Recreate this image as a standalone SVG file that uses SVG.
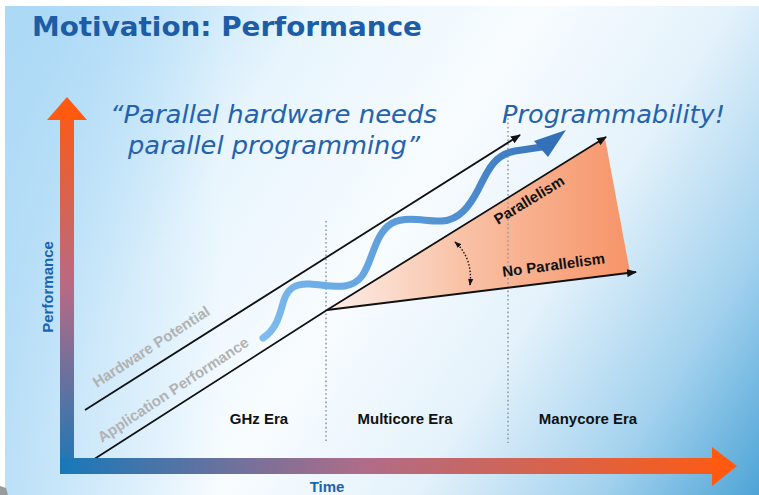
<svg xmlns="http://www.w3.org/2000/svg" width="759" height="495" viewBox="0 0 759 495">
<defs>
<linearGradient id="bg" gradientUnits="userSpaceOnUse" x1="0" y1="0" x2="759" y2="495">
<stop offset="0" stop-color="#9fd4f6"/>
<stop offset="0.3" stop-color="#e8f5fd"/>
<stop offset="0.5" stop-color="#f8fcff"/>
<stop offset="0.68" stop-color="#e4f2fb"/>
<stop offset="0.85" stop-color="#a3d2ee"/>
<stop offset="1" stop-color="#4ea4d6"/>
</linearGradient>
<linearGradient id="bgLeft" gradientUnits="userSpaceOnUse" x1="0" y1="0" x2="220" y2="0">
<stop offset="0" stop-color="#aedaf6" stop-opacity="0.8"/>
<stop offset="1" stop-color="#aedaf6" stop-opacity="0"/>
</linearGradient>
<linearGradient id="yAxis" gradientUnits="userSpaceOnUse" x1="0" y1="474" x2="0" y2="97">
<stop offset="0" stop-color="#1878b8"/>
<stop offset="0.5" stop-color="#b86a84"/>
<stop offset="1" stop-color="#ff5a10"/>
</linearGradient>
<linearGradient id="xAxis" gradientUnits="userSpaceOnUse" x1="60" y1="0" x2="737" y2="0">
<stop offset="0" stop-color="#1878b8"/>
<stop offset="0.45" stop-color="#b06c88"/>
<stop offset="1" stop-color="#ff5a10"/>
</linearGradient>
<linearGradient id="wedge" gradientUnits="userSpaceOnUse" x1="327" y1="0" x2="625" y2="0">
<stop offset="0" stop-color="#fcefea"/>
<stop offset="0.45" stop-color="#f9c2a6"/>
<stop offset="1" stop-color="#f7956a"/>
</linearGradient>
<linearGradient id="wave" gradientUnits="userSpaceOnUse" x1="263" y1="338" x2="566" y2="130">
<stop offset="0" stop-color="#7cbcf0"/>
<stop offset="0.5" stop-color="#5a9ad8"/>
<stop offset="1" stop-color="#3470b8"/>
</linearGradient>
<marker id="ah" viewBox="0 0 10 8" refX="9" refY="4" markerWidth="10" markerHeight="8" markerUnits="userSpaceOnUse" orient="auto">
<path d="M0,0 L10,4 L0,8 Z" fill="#111"/>
</marker>
<marker id="ahs" viewBox="0 0 8 6" refX="7" refY="3" markerWidth="7" markerHeight="6" markerUnits="userSpaceOnUse" orient="auto-start-reverse">
<path d="M0,0 L8,3 L0,6 Z" fill="#111"/>
</marker>
<style>
.line{stroke:#111;stroke-width:1.8;fill:none}
.dot{stroke:#999;stroke-width:1.6;stroke-dasharray:1.6 2.6;fill:none}
.lbl{font-family:"Liberation Sans",Arial,sans-serif;font-weight:bold;font-size:15px;fill:#111}
.gray{font-family:"Liberation Sans",Arial,sans-serif;font-weight:bold;font-size:15px;fill:#b2b2b2}
.ax{font-family:"Liberation Sans",Arial,sans-serif;font-weight:bold;font-size:15px;fill:#1a64ae}
.quote{font-family:"DejaVu Sans",Verdana,sans-serif;font-style:italic;font-size:25px;fill:#2462ad}
</style>
</defs>

<g id="background">
<rect x="0" y="0" width="759" height="495" fill="#ffffff"/>
<rect x="5" y="6" width="754" height="489" fill="url(#bg)"/>
<rect x="5" y="6" width="220" height="489" fill="url(#bgLeft)"/>
<path d="M0,486 L6,488 L8,495 L0,495 Z" fill="#9a9a9a"/>
</g>

<g id="title">
<text x="32" y="36" font-family="DejaVu Sans, Verdana, sans-serif" font-weight="bold" font-size="27" fill="#1d5ca6" textLength="390" lengthAdjust="spacingAndGlyphs">Motivation: Performance</text>
</g>

<g id="wedge-area">
<polygon points="327,310 605,138 630,272.5" fill="url(#wedge)"/>
</g>

<g id="era-dividers">
<line class="dot" x1="326" y1="221" x2="326" y2="443"/>
<line class="dot" x1="508" y1="110" x2="508" y2="443"/>
</g>

<g id="connectors">
<line id="hardware-line" class="line" x1="85" y1="410" x2="520" y2="135" marker-end="url(#ah)"/>
<polyline id="app-line" class="line" points="85,465 327,310 606,137" marker-end="url(#ah)"/>
<line id="no-par-line" class="line" x1="327" y1="310" x2="636" y2="272" marker-end="url(#ah)"/>
<path id="angle-arrow" d="M455,242 Q473,258 470,285" fill="none" stroke="#111" stroke-width="1.4" stroke-dasharray="1.5 1.8" marker-start="url(#ahs)" marker-end="url(#ahs)"/>
</g>

<g id="programmability-wave">
<path d="M263,338 C278,328 280,312 284,300 C288,288 296,283 310,284 C330,285 350,292 362,276 C372,262 374,238 388,226 C402,214 425,222 442,221 C460,220 470,205 478,190 C488,170 494,155 515,151 L542,147" fill="none" stroke="url(#wave)" stroke-width="7" stroke-linecap="round"/>
<polygon points="566,130 534,141 548,157" fill="#3470b8"/>
</g>

<g id="axes">
<rect x="60" y="118" width="14" height="356" fill="url(#yAxis)"/>
<polygon points="47,120 87,120 67,97" fill="#ff5a10"/>
<rect x="60" y="458" width="655" height="16" fill="url(#xAxis)"/>
<polygon points="712,447 712,486 737,466" fill="#ff5a10"/>
</g>

<g id="labels">
<text class="quote" x="110" y="123" textLength="327" lengthAdjust="spacingAndGlyphs">“Parallel hardware needs</text>
<text class="quote" x="128" y="154" textLength="292" lengthAdjust="spacingAndGlyphs">parallel programming”</text>
<text class="quote" x="502" y="123" font-size="24" textLength="223" lengthAdjust="spacingAndGlyphs">Programmability!</text>
<text class="gray" transform="translate(97,388) rotate(-33)">Hardware Potential</text>
<text class="gray" transform="translate(102,443) rotate(-33.5)">Application Performance</text>
<text class="lbl" x="259" y="424" text-anchor="middle">GHz Era</text>
<text class="lbl" x="405" y="424" text-anchor="middle">Multicore Era</text>
<text class="lbl" x="588" y="424" text-anchor="middle">Manycore Era</text>
<text class="lbl" font-size="14.5" transform="translate(498,225) rotate(-31.5)">Parallelism</text>
<text class="lbl" font-size="14.5" transform="translate(503,277) rotate(-7.6)">No Parallelism</text>
<text class="ax" transform="translate(53,287) rotate(-90)" text-anchor="middle">Performance</text>
<text class="ax" x="327" y="492" text-anchor="middle">Time</text>
</g>
</svg>
